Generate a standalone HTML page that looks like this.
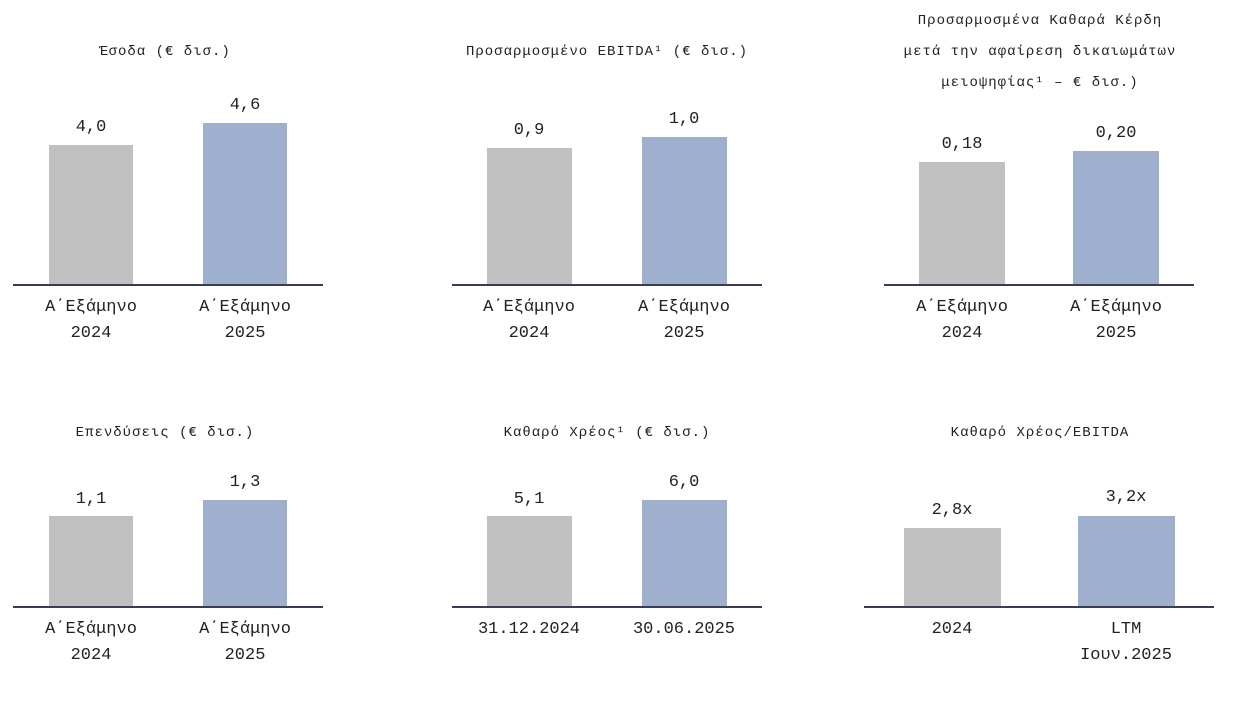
<!DOCTYPE html>
<html><head><meta charset="utf-8"><style>
body{margin:0;width:1240px;height:701px;background:#fff;position:relative;overflow:hidden;font-family:"Liberation Mono","DejaVu Sans Mono",monospace;color:#222}
div{position:absolute}
.g{background:#c0c0c0}.b{background:#9eb0cd}
.ax{height:2px;background:#3a3c52}
.t{font-size:14px;text-align:center;white-space:nowrap;letter-spacing:1px;transform:translateX(-50%)}
.v{font-size:17px;text-align:center;width:90px;transform:translateX(-50%)}
.l{font-size:17px;text-align:center;width:160px;line-height:26px;transform:translateX(-50%)}
</style></head><body>
<div class="t" style="left:165px;top:44px">Έσοδα (€ δισ.)</div>
<div class="g" style="left:49px;top:145px;width:84px;height:140px"></div>
<div class="b" style="left:203px;top:123px;width:84px;height:162px"></div>
<div class="ax" style="left:13px;top:284px;width:310px"></div>
<div class="v" style="left:91px;top:118px">4,0</div>
<div class="v" style="left:245px;top:96px">4,6</div>
<div class="l" style="left:91px;top:295px">Α΄Εξάμηνο<br>2024</div>
<div class="l" style="left:245px;top:295px">Α΄Εξάμηνο<br>2025</div>
<div class="t" style="left:607px;top:44px">Προσαρμοσμένο EBITDA¹ (€ δισ.)</div>
<div class="g" style="left:487px;top:148px;width:85px;height:137px"></div>
<div class="b" style="left:642px;top:137px;width:85px;height:148px"></div>
<div class="ax" style="left:452px;top:284px;width:310px"></div>
<div class="v" style="left:529px;top:121px">0,9</div>
<div class="v" style="left:684px;top:110px">1,0</div>
<div class="l" style="left:529px;top:295px">Α΄Εξάμηνο<br>2024</div>
<div class="l" style="left:684px;top:295px">Α΄Εξάμηνο<br>2025</div>
<div class="t" style="left:1040px;top:6px;line-height:31px">Προσαρμοσμένα Καθαρά Κέρδη<br>μετά την αφαίρεση δικαιωμάτων<br>μειοψηφίας¹ – € δισ.)</div>
<div class="g" style="left:919px;top:162px;width:86px;height:123px"></div>
<div class="b" style="left:1073px;top:151px;width:86px;height:134px"></div>
<div class="ax" style="left:884px;top:284px;width:310px"></div>
<div class="v" style="left:962px;top:135px">0,18</div>
<div class="v" style="left:1116px;top:124px">0,20</div>
<div class="l" style="left:962px;top:295px">Α΄Εξάμηνο<br>2024</div>
<div class="l" style="left:1116px;top:295px">Α΄Εξάμηνο<br>2025</div>
<div class="t" style="left:165px;top:425px">Επενδύσεις (€ δισ.)</div>
<div class="g" style="left:49px;top:516px;width:84px;height:91px"></div>
<div class="b" style="left:203px;top:500px;width:84px;height:107px"></div>
<div class="ax" style="left:13px;top:606px;width:310px"></div>
<div class="v" style="left:91px;top:490px">1,1</div>
<div class="v" style="left:245px;top:473px">1,3</div>
<div class="l" style="left:91px;top:617px">Α΄Εξάμηνο<br>2024</div>
<div class="l" style="left:245px;top:617px">Α΄Εξάμηνο<br>2025</div>
<div class="t" style="left:607px;top:425px">Καθαρό Χρέος¹ (€ δισ.)</div>
<div class="g" style="left:487px;top:516px;width:85px;height:91px"></div>
<div class="b" style="left:642px;top:500px;width:85px;height:107px"></div>
<div class="ax" style="left:452px;top:606px;width:310px"></div>
<div class="v" style="left:529px;top:490px">5,1</div>
<div class="v" style="left:684px;top:473px">6,0</div>
<div class="l" style="left:529px;top:617px">31.12.2024</div>
<div class="l" style="left:684px;top:617px">30.06.2025</div>
<div class="t" style="left:1040px;top:425px">Καθαρό Χρέος/EBITDA</div>
<div class="g" style="left:904px;top:528px;width:97px;height:79px"></div>
<div class="b" style="left:1078px;top:516px;width:97px;height:91px"></div>
<div class="ax" style="left:864px;top:606px;width:350px"></div>
<div class="v" style="left:952px;top:501px">2,8x</div>
<div class="v" style="left:1126px;top:488px">3,2x</div>
<div class="l" style="left:952px;top:617px">2024</div>
<div class="l" style="left:1126px;top:617px">LTM<br>Ιουν.2025</div>
</body></html>
